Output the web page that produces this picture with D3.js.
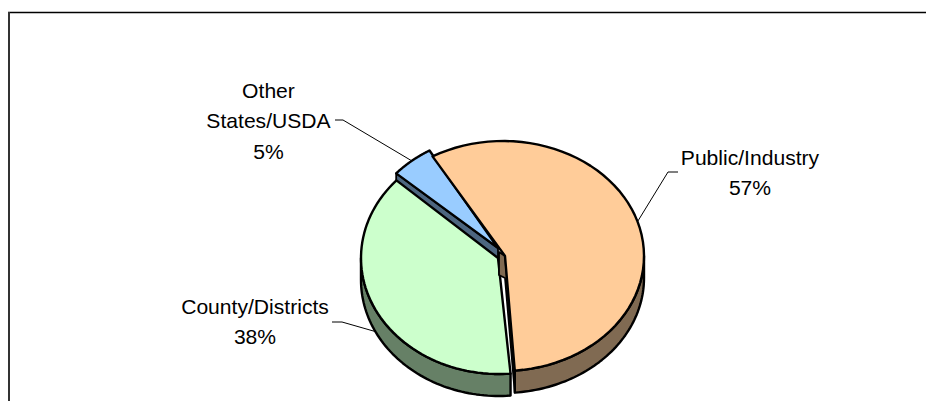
<!DOCTYPE html>
<html>
<head>
<meta charset="utf-8">
<script src="https://cdnjs.cloudflare.com/ajax/libs/d3/7.8.5/d3.min.js"></script>
<style>
  html, body { margin: 0; padding: 0; background: #fff; }
  svg { display: block; }
  text { font-family: "Liberation Sans", Arial, sans-serif; font-size: 21.1px; fill: #000; text-anchor: middle; }
</style>
</head>
<body>
<svg id="chart" width="926" height="401"></svg>
<script>
// Funding sources, share in percent, listed clockwise from the upper left of the pie
const categories = ["Public/Industry", "County/Districts", "Other States/USDA"];
const shares = [57, 38, 5];
const labelLines = [["Public/Industry"], ["County/Districts"], ["Other", "States/USDA"]];
const topColors = ["#FFCC99", "#CCFFCC", "#99CCFF"];
const sideColors = ["#806A52", "#668066", "#4D6680"];

// Each wedge is pulled out a little, so each has its own ellipse and apex
const ellipses = [
  { cx: 503, cy: 256, rx: 141, ry: 115, apexX: 505, apexY: 256 },
  { cx: 499, cy: 258, rx: 138, ry: 116, apexX: 498, apexY: 258 },
  { cx: 498, cy: 251, rx: 137, ry: 116, apexX: 498, apexY: 248 }
];
const depth = 22;

// Label block centre, first baseline, and the elbow of the leader line
const labelLayout = [
  { x: 750, y: 165, lineEnd: [678, 172], elbow: [668, 172], onSide: false },
  { x: 255, y: 314, lineEnd: [332, 322], elbow: [342, 322], onSide: true },
  { x: 268.5, y: 98, lineEnd: [335, 120], elbow: [343, 120], onSide: false }
];

const svg = d3.select("#chart");

// Frame: only the top and left edges fall inside the window
svg.append("line").attr("x1", 8).attr("x2", 926).attr("y1", 12.5).attr("y2", 12.5)
  .attr("stroke", "#000").attr("stroke-width", 1.4);
svg.append("line").attr("x1", 9).attr("x2", 9).attr("y1", 12).attr("y2", 401)
  .attr("stroke", "#333").attr("stroke-width", 2);

const pie = d3.pie().sort(null).value(d => d)
  .startAngle(-30 * Math.PI / 180)
  .endAngle(330 * Math.PI / 180);
const slices = pie(shares);

const rim = (e, t, dy = 0) => [e.cx + e.rx * Math.sin(t), e.cy - e.ry * Math.cos(t) + dy];
const sweep = (a0, a1) => d3.range(0, 61).map(i => a0 + (a1 - a0) * i / 60);
const line = d3.line();

const drawShape = (points, fill, width = 2.4) =>
  svg.append("path")
    .attr("d", line(points) + "Z")
    .attr("fill", fill)
    .attr("stroke", "#000")
    .attr("stroke-width", width)
    .attr("stroke-linejoin", "round");

// Outer wall of a wedge, limited to the part of the rim facing the viewer
function drawWall(i) {
  const e = ellipses[i], s = slices[i];
  const a0 = Math.max(s.startAngle, Math.PI / 2);
  const a1 = Math.min(s.endAngle, 3 * Math.PI / 2);
  if (a1 <= a0) return;
  const upper = sweep(a0, a1).map(t => rim(e, t));
  const lower = sweep(a1, a0).map(t => rim(e, t, depth));
  drawShape(upper.concat(lower), sideColors[i]);
}

// Cut face running from the apex out to the rim at angle t.
// notch widens the face behind the apex, where the wedge's inner corner shows.
function drawCutFace(i, t, notch = 0) {
  const e = ellipses[i];
  const r = rim(e, t);
  const pts = [[e.apexX, e.apexY], r, [r[0], r[1] + depth], [e.apexX, e.apexY + depth]];
  if (notch) {
    pts.push([e.apexX - notch, e.apexY + depth - 3], [e.apexX - notch, e.apexY - 4]);
  }
  drawShape(pts, sideColors[i], 1.8);
}

function drawTop(i) {
  const e = ellipses[i], s = slices[i];
  const pts = [[e.apexX, e.apexY]].concat(sweep(s.startAngle, s.endAngle).map(t => rim(e, t)));
  drawShape(pts, topColors[i]);
}

// Leader lines sit under the pie and end at the middle of each wedge's rim
slices.forEach((s, i) => {
  const l = labelLayout[i];
  const mid = (s.startAngle + s.endAngle) / 2;
  const end = rim(ellipses[i], mid, l.onSide ? depth : 0);
  svg.append("path")
    .attr("d", line([l.lineEnd, l.elbow, end]))
    .attr("fill", "none").attr("stroke", "#000").attr("stroke-width", 1);
});

// Back to front: blue face, walls, green and blue tops, orange face and top
drawCutFace(2, slices[2].startAngle);
drawWall(1);
drawWall(0);
drawTop(1);
drawTop(2);
drawCutFace(0, slices[0].endAngle, 6);
drawTop(0);

// Labels: name lines followed by the percentage
labelLayout.forEach((l, i) => {
  const rows = labelLines[i].concat(shares[i] + "%");
  const t = svg.append("text").attr("aria-label", categories[i]);
  rows.forEach((row, k) => {
    t.append("tspan").attr("x", l.x).attr("y", l.y + k * 30.3).text(row);
  });
});
</script>
</body>
</html>
